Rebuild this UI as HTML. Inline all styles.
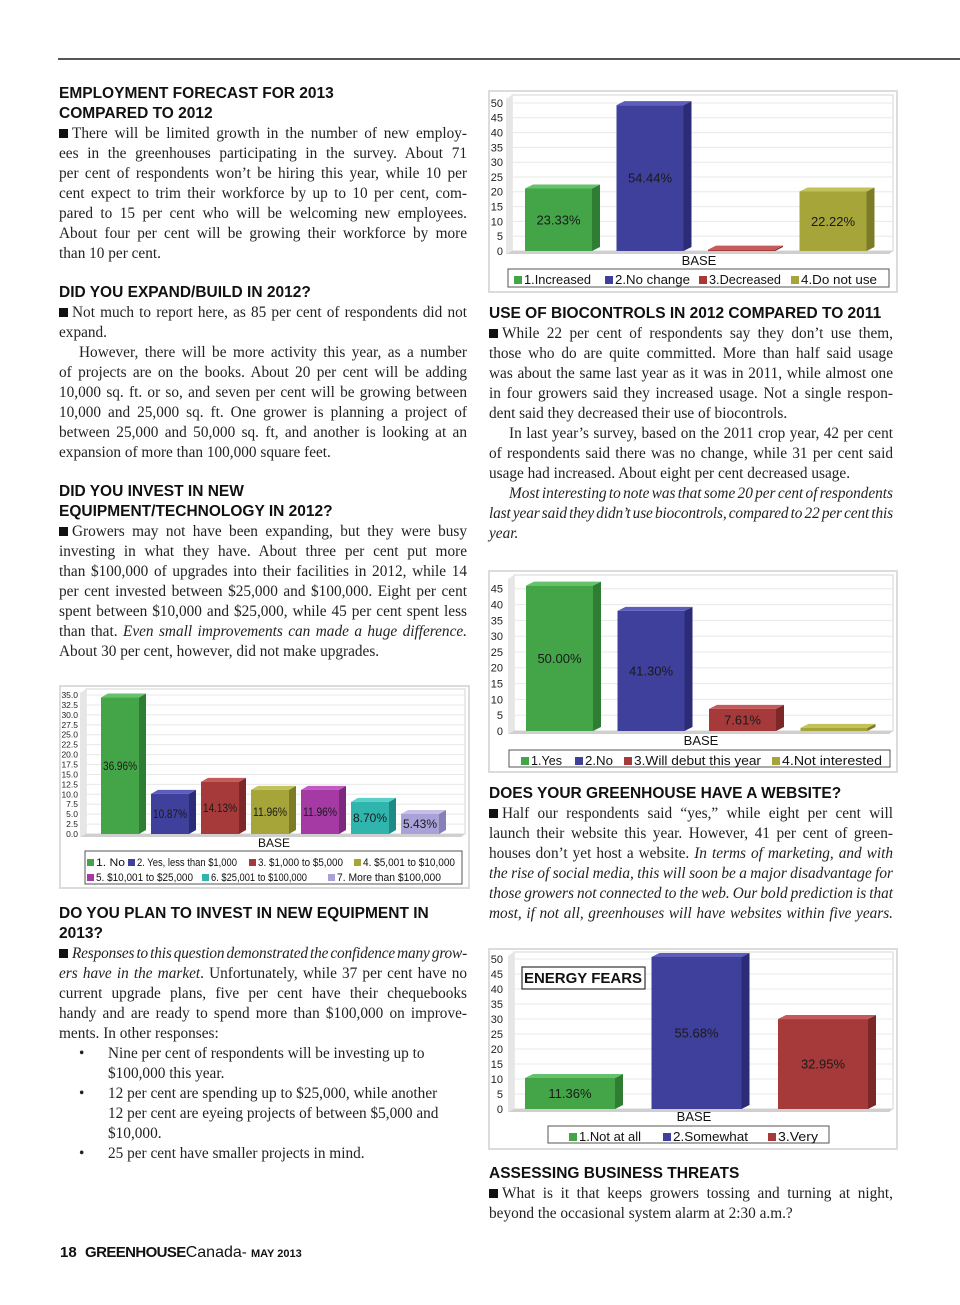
<!DOCTYPE html>
<html><head><meta charset="utf-8">
<style>
*{margin:0;padding:0;box-sizing:border-box}
body{width:960px;height:1305px;background:#fff;position:relative;overflow:hidden;font-family:"Liberation Serif",serif;color:#222}
.col{position:absolute;font-size:15.3px;line-height:20px}
.col div{white-space:nowrap}
.h{font-family:"Liberation Sans",sans-serif;font-weight:bold;font-size:15.5px;color:#111}
.sq{display:inline-block;width:9px;height:9px;background:#111;margin-right:4px;vertical-align:0px}
.ind{padding-left:20px}
i{font-style:italic}
.bl{position:relative;padding-left:49px}
.bl:before{content:"•";position:absolute;left:20px}
.nb{padding-left:49px}
svg text{font-family:"Liberation Sans",sans-serif}
</style></head>
<body>
<div style="position:absolute;left:58px;top:58px;width:902px;height:2px;background:#555"></div>

<div class="col" style="left:59px;width:408px;top:84px">
<div class="h">EMPLOYMENT FORECAST FOR 2013</div>
<div class="h">COMPARED TO 2012</div>
<div>
<div class="j"><span class="sq"></span>There will be limited growth in the number of new employ-</div>
<div class="j">ees in the greenhouses participating in the survey. About 71</div>
<div class="j">per cent of respondents won’t be hiring this year, while 10 per</div>
<div class="j">cent expect to trim their workforce by up to 10 per cent, com-</div>
<div class="j">pared to 15 per cent who will be welcoming new employees.</div>
<div class="j">About four per cent will be growing their workforce by more</div>
<div>than 10 per cent.</div>
</div>
<div style="height:19px"></div>
<div class="h">DID YOU EXPAND/BUILD IN 2012?</div>
<div>
<div class="j"><span class="sq"></span>Not much to report here, as 85 per cent of respondents did not</div>
<div>expand.</div>
<div class="j ind">However, there will be more activity this year, as a number</div>
<div class="j">of projects are on the books. About 20 per cent will be adding</div>
<div class="j">10,000 sq. ft. or so, and seven per cent will be growing between</div>
<div class="j">10,000 and 25,000 sq. ft. One grower is planning a project of</div>
<div class="j">between 25,000 and 50,000 sq. ft, and another is looking at an</div>
<div>expansion of more than 100,000 square feet.</div>
</div>
<div style="height:19px"></div>
<div class="h">DID YOU INVEST IN NEW</div>
<div class="h">EQUIPMENT/TECHNOLOGY IN 2012?</div>
<div>
<div class="j"><span class="sq"></span>Growers may not have been expanding, but they were busy</div>
<div class="j">investing in what they have. About three per cent put more</div>
<div class="j">than $100,000 of upgrades into their facilities in 2012, while 14</div>
<div class="j">per cent invested between $25,000 and $100,000. Eight per cent</div>
<div class="j">spent between $10,000 and $25,000, while 45 per cent spent less</div>
<div class="j">than that. <i>Even small improvements can made a huge difference.</i></div>
<div>About 30 per cent, however, did not make upgrades.</div>
</div>
</div>

<div class="col" style="left:59px;width:408px;top:904px">
<div class="h">DO YOU PLAN TO INVEST IN NEW EQUIPMENT IN</div>
<div class="h">2013?</div>
<div>
<div class="j"><span class="sq"></span><i>Responses to this question demonstrated the confidence many grow-</i></div>
<div class="j"><i>ers have in the market</i>. Unfortunately, while 37 per cent have no</div>
<div class="j">current upgrade plans, five per cent have their chequebooks</div>
<div class="j">handy and are ready to spend more than $100,000 on improve-</div>
<div>ments. In other responses:</div>
<div class="bl">Nine per cent of respondents will be investing up to</div>
<div class="nb">$100,000 this year.</div>
<div class="bl">12 per cent are spending up to $25,000, while another</div>
<div class="nb">12 per cent are eyeing projects of between $5,000 and</div>
<div class="nb">$10,000.</div>
<div class="bl">25 per cent have smaller projects in mind.</div>
</div>
</div>

<div class="col" style="left:489px;width:404px;top:304px">
<div class="h">USE OF BIOCONTROLS IN 2012 COMPARED TO 2011</div>
<div>
<div class="j"><span class="sq"></span>While 22 per cent of respondents say they don’t use them,</div>
<div class="j">those who do are quite committed. More than half said usage</div>
<div class="j">was about the same last year as it was in 2011, while almost one</div>
<div class="j">in four growers said they increased usage. Not a single respon-</div>
<div>dent said they decreased their use of biocontrols.</div>
<div class="j ind">In last year’s survey, based on the 2011 crop year, 42 per cent</div>
<div class="j">of respondents said there was no change, while 31 per cent said</div>
<div>usage had increased. About eight per cent decreased usage.</div>
<div class="j ind"><i>Most interesting to note was that some 20 per cent of respondents</i></div>
<div class="j"><i>last year said they didn’t use biocontrols, compared to 22 per cent this</i></div>
<div><i>year.</i></div>
</div>
</div>

<div class="col" style="left:489px;width:404px;top:784px">
<div class="h">DOES YOUR GREENHOUSE HAVE A WEBSITE?</div>
<div>
<div class="j"><span class="sq"></span>Half our respondents said “yes,” while eight per cent will</div>
<div class="j">launch their website this year. However, 41 per cent of green-</div>
<div class="j">houses don’t yet host a website. <i>In terms of marketing, and with</i></div>
<div class="j"><i>the rise of social media, this will soon be a major disadvantage for</i></div>
<div class="j"><i>those growers not connected to the web. Our bold prediction is that</i></div>
<div class="j"><i>most, if not all, greenhouses will have websites within five years.</i></div>
</div>
</div>

<div class="col" style="left:489px;width:404px;top:1164px">
<div class="h">ASSESSING BUSINESS THREATS</div>
<div>
<div class="j"><span class="sq"></span>What is it that keeps growers tossing and turning at night,</div>
<div>beyond the occasional system alarm at 2:30 a.m.?</div>
</div>
</div>

<div style="position:absolute;left:60px;top:1244px;font-family:'Liberation Sans',sans-serif;font-size:15px;white-space:nowrap;color:#111">
<b>18</b>&nbsp;&nbsp;<b style="letter-spacing:-0.6px">GREENHOUSE</b><span style="font-size:16px">Canada</span>- <b style="font-size:11px">MAY 2013</b>
</div>

<svg id="charts" width="960" height="1305" style="position:absolute;left:0;top:0" xmlns="http://www.w3.org/2000/svg"></svg>

<script>
// ---- justify lines without wrapping ----
document.querySelectorAll('.col').forEach(col => {
  const W = col.clientWidth;
  col.querySelectorAll('div.j').forEach(line => {
    line.style.display = 'block';
    const span = document.createElement('span');
    while (line.firstChild) span.appendChild(line.firstChild);
    line.appendChild(span);
    const pad = parseFloat(getComputedStyle(line).paddingLeft) || 0;
    const nat = span.getBoundingClientRect().width;
    const spaces = (span.textContent.match(/ /g) || []).length;
    let extra = (W - pad - nat);
    if (spaces) {
      let ws = extra / spaces;
      if (ws < -1.5) { span.style.letterSpacing = ((extra + 1.5*spaces) / span.textContent.length) + 'px'; ws = -1.5; }
      span.style.wordSpacing = ws + 'px';
    }
  });
});

// ---- data ----
const bioCategories = ["1.Increased","2.No change","3.Decreased","4.Do not use"];
const bioValues = [23.33, 54.44, 0.5, 22.22];
const bioLabels = ["23.33%","54.44%","","22.22%"];
const bioTicks = [0,5,10,15,20,25,30,35,40,45,50];

const webCategories = ["1.Yes","2.No","3.Will debut this year","4.Not interested"];
const webValues = [50.00, 41.30, 7.61, 1.09];
const webLabels = ["50.00%","41.30%","7.61%",""];
const webTicks = [0,5,10,15,20,25,30,35,40,45];

const energyCategories = ["1.Not at all","2.Somewhat","3.Very"];
const energyValues = [11.36, 55.68, 32.95];
const energyLabels = ["11.36%","55.68%","32.95%"];
const energyTicks = [0,5,10,15,20,25,30,35,40,45,50];

const equipCategories = ["1. No","2. Yes, less than $1,000","3. $1,000 to $5,000","4. $5,001 to $10,000","5. $10,001 to $25,000","6. $25,001 to $100,000","7. More than $100,000"];
const equipValues = [36.96, 10.87, 14.13, 11.96, 11.96, 8.70, 5.43];
const equipLabels = ["36.96%","10.87%","14.13%","11.96%","11.96%","8.70%","5.43%"];
const equipTicks = [0,2.5,5,7.5,10,12.5,15,17.5,20,22.5,25,27.5,30,32.5,35];

const PAL = {
  green:["#43a547","#2e7d33","#66c26a"], blue:["#3f3f9c","#2b2b78","#5d5dbb"],
  red:["#a63a3a","#7d2828","#c45a5a"], olive:["#a5a53a","#7c7c28","#c2c25a"],
  magenta:["#a53aa5","#7c287c","#c25ac2"], teal:["#2fb5ae","#1f8a85","#5ad0ca"],
  lav:["#a9a2d9","#8680b8","#c4bfe8"]
};

const svg = document.getElementById('charts');
const NS = "http://www.w3.org/2000/svg";
function mk(tag, attrs, parent){
  const e = document.createElementNS(NS, tag);
  for (const k in attrs) e.setAttribute(k, attrs[k]);
  (parent||svg).appendChild(e);
  return e;
}

function drawChart(c, cats, vals, labs, ticks){
  const g = mk('g', {});
  
  
  mk('rect', {x:c.bx, y:c.by, width:c.bw, height:c.bh, fill:'#fff', stroke:'#dcdcdc', 'stroke-width':2}, g);
  mk('rect', {x:c.pl, y:c.pt, width:c.pr-c.pl, height:c.base-c.pt, fill:'#fff', stroke:'#d4d4d4'}, g);
  mk('polygon', {points:`${c.pl-6},${c.pt+4} ${c.pl},${c.pt} ${c.pl},${c.base} ${c.pl-6},${c.base+3}`, fill:'#e6e6e6'}, g);
  const y = v => c.base - v * c.k;
  ticks.forEach(t => {
    const ty = y(t);
    if (t > 0) mk('line', {x1:c.pl, x2:c.pr, y1:ty, y2:ty, stroke:'#e8e8e8'}, g);
    const tx = mk('text', {x:c.tx, y:ty+ c.fs*0.35, 'text-anchor':'end', 'font-size':c.fs, fill:'#222'}, g);
    tx.textContent = c.dec ? t.toFixed(1) : String(t);
    
    
  });
  mk('polygon', {points:`${c.pl-6},${c.base+3} ${c.pl},${c.base} ${c.pr},${c.base} ${c.pr-4},${c.base+3}`, fill:'#cfcfcf'}, g);
  const d = c.depth, u = c.up;
  vals.forEach((v, i) => {
    const col = PAL[c.colors[i]];
    const x = c.x0 + i * c.step, w = c.w;
    const top = c.base - v * c.k * c.barScale;
    const bar = mk('g', {}, g);
    
    
    mk('polygon', {points:`${x+w},${top} ${x+w+d},${top-u} ${x+w+d},${c.base-u} ${x+w},${c.base}`, fill:col[1]}, bar);
    mk('polygon', {points:`${x},${top} ${x+d},${top-u} ${x+w+d},${top-u} ${x+w},${top}`, fill:col[2]}, bar);
    mk('rect', {x:x, y:top, width:w, height:c.base-top, fill:col[0]}, bar);
    if (labs[i]) {
      const lt = mk('text', {x:x+w/2, y:(top+c.base)/2 + c.lfs*0.35, 'text-anchor':'middle', 'font-size':c.lfs, fill:'#1a1a1a'}, bar);
      if (c.lblW) { lt.setAttribute('textLength', c.lblW); lt.setAttribute('lengthAdjust', 'spacingAndGlyphs'); }
      lt.textContent = labs[i];
      
      
    }
  });
  const bt = mk('text', {x:c.baseX, y:c.baseY, 'text-anchor':'middle', 'font-size':c.bfs, fill:'#111'}, g);
  bt.textContent = 'BASE';
  
  
  const lg = mk('g', {}, g);
  
  
  mk('rect', {x:c.lx, y:c.ly, width:c.lw, height:c.lh, fill:'#fff', stroke:'#555', 'stroke-width':1}, lg);
  cats.forEach((cat, i) => {
    const p = c.lpos[i];
    const col = PAL[c.colors[i]];
    mk('rect', {x:p[0], y:p[1]-c.lsq+1, width:c.lsq, height:c.lsq, fill:col[0]}, lg);
    const t = mk('text', {x:p[0]+c.lsq+2, y:p[1]+1, 'font-size':c.lfz, fill:'#111'}, lg);
    if (p[2]) { t.setAttribute('textLength', p[2]); t.setAttribute('lengthAdjust', 'spacingAndGlyphs'); }
    t.textContent = cat;
    
    
  });
  return g;
}

drawChart({name:'biocontrols-chart', bx:489,by:91,bw:408,bh:201, pl:512,pr:893,pt:95,base:251,k:2.96,barScale:0.905,
  tx:503, fs:11, lfs:13, x0:525, step:91.5, w:67, depth:8, up:4,
  colors:['green','blue','red','olive'], baseX:699, baseY:265, bfs:13,
  lx:508, ly:269, lw:381, lh:18, lsq:8, lfz:12.5, lpos:[[514,283,67],[605,283,75],[699,283,72],[791,283,76]]},
  bioCategories, bioValues, bioLabels, bioTicks);

drawChart({name:'website-chart', bx:489,by:571,bw:408,bh:201, pl:514,pr:893,pt:575,base:731,k:3.16,barScale:0.92,
  tx:503, fs:11, lfs:13, x0:526, step:91.5, w:67, depth:8, up:4,
  colors:['green','blue','red','olive'], baseX:701, baseY:745, bfs:13,
  lx:509, ly:750, lw:381, lh:17, lsq:8, lfz:12.5, lpos:[[521,764,31],[575,764,28],[624,764,127],[772,764,100]]},
  webCategories, webValues, webLabels, webTicks);

const energy = drawChart({name:'energy-fears-chart', bx:489,by:949,bw:408,bh:200, pl:514,pr:893,pt:952,base:1109,k:3.0,barScale:0.91,
  tx:503, fs:11, lfs:13, x0:525, step:126.5, w:90, depth:8, up:4,
  colors:['green','blue','red'], baseX:694, baseY:1121, bfs:13,
  lx:548, ly:1126, lw:281, lh:17, lsq:8, lfz:12.5, lpos:[[569,1140,62],[663,1140,75],[768,1140,40]]},
  energyCategories, energyValues, energyLabels, energyTicks);
mk('rect', {x:522, y:967, width:123, height:22, fill:'#fff', stroke:'#333', 'stroke-width':1.2}, energy);
const et = mk('text', {x:583, y:983, 'text-anchor':'middle', 'font-size':15, 'font-weight':'bold', fill:'#111'}, energy);
et.textContent = 'ENERGY FEARS';



drawChart({name:'equipment-investment-chart', bx:60,by:686,bw:409,bh:202, pl:86,pr:465,pt:689,base:834,k:3.97,barScale:0.93,
  tx:78, fs:8.5, lfs:12, lblW:34, x0:101, step:50, w:38, depth:7, up:4, dec:true,
  colors:['green','blue','red','olive','magenta','teal','lav'], baseX:274, baseY:847, bfs:12,
  lx:85, ly:851, lw:377, lh:33, lsq:7, lfz:11,
  lpos:[[87,865,29],[128,865,100],[249,865,85],[354,865,92],[87,880,97],[202,880,96],[328,880,104]]},
  equipCategories, equipValues, equipLabels, equipTicks);
</script>
</body></html>
